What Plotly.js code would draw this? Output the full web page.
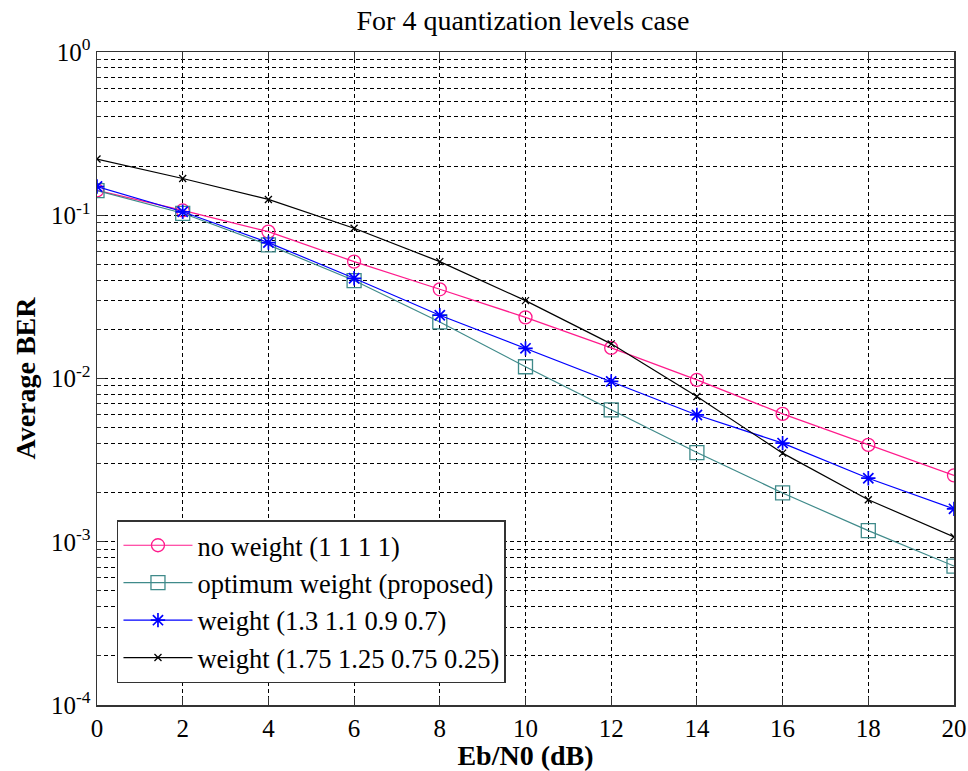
<!DOCTYPE html>
<html>
<head>
<meta charset="utf-8">
<script src="https://cdn.plot.ly/plotly-3.0.1.min.js"></script>
<style>
  html, body { margin: 0; padding: 0; background: #fff; }
  #chart { width: 968px; height: 771px; }
</style>
</head>
<body>
<div id="chart"></div>
<script>
// Eb/N0 sweep (dB)
const ebn0 = [0, 2, 4, 6, 8, 10, 12, 14, 16, 18, 20];

// Average BER per weighting scheme
const berNoWeight = [0.142, 0.107, 0.0794, 0.052, 0.0352, 0.0237, 0.0154, 0.0098, 0.00607, 0.00392, 0.00255];
const berOptimum  = [0.1415, 0.1028, 0.0658, 0.0398, 0.0222, 0.0118, 0.00643, 0.00352, 0.00199, 0.00117, 0.00071];
const berWeightA  = [0.150, 0.105, 0.068, 0.0411, 0.0244, 0.0153, 0.0096, 0.00598, 0.00402, 0.00245, 0.00159];
const berWeightB  = [0.221, 0.168, 0.125, 0.0832, 0.052, 0.030, 0.0163, 0.00775, 0.00349, 0.00181, 0.00107];

const seriesNames = [
  'no weight (1 1 1 1)',
  'optimum weight (proposed)',
  'weight (1.3 1.1 0.9 0.7)',
  'weight (1.75 1.25 0.75 0.25)'
];

const xTickVals = [0, 2, 4, 6, 8, 10, 12, 14, 16, 18, 20];
const yTickVals = [1e-4, 1e-3, 1e-2, 1e-1, 1];
const yTickText = ['10<sup>-4</sup>', '10<sup>-3</sup>', '10<sup>-2</sup>', '10<sup>-1</sup>', '10<sup>0</sup>'];

const serif = '"Liberation Serif", "Times New Roman", serif';
const gridDash = '4px,3px';

function trace(y, name, color, symbol, size, mlw, group) {
  return {
    x: ebn0, y: y, name: name, type: 'scatter', mode: 'lines+markers',
    legendgroup: group,
    line: { color: color, width: 1.2 },
    marker: { symbol: symbol, size: size, color: color, line: { color: color, width: mlw } }
  };
}

const data = [
  trace(berNoWeight, seriesNames[0], '#ff1a8c', 'circle-open', 13, 1.3, 'a'),
  trace(berOptimum,  seriesNames[1], '#3f8a8a', 'square-open', 14, 1.3, 'b'),
  trace(berWeightA,  seriesNames[2], '#0000ff', 'asterisk-open', 12, 1.7, 'c'),
  trace(berWeightB,  seriesNames[3], '#000000', 'x-thin-open', 7, 1.3, 'd')
];

const layout = {
  width: 968, height: 771,
  margin: { l: 97, r: 14, t: 52, b: 66 },
  paper_bgcolor: '#fff', plot_bgcolor: '#fff',
  font: { family: serif, color: '#000' },
  title: {
    text: 'For 4 quantization levels case',
    font: { family: serif, size: 28, color: '#000' },
    x: 0.497, xanchor: 'center', xref: 'paper',
    y: 0.974, yanchor: 'middle', yref: 'container'
  },
  xaxis: {
    range: [0, 20],
    tickmode: 'array', tickvals: xTickVals,
    ticks: 'inside', ticklen: 8, tickcolor: '#333', tickwidth: 1,
    showline: true, linecolor: '#333', linewidth: 1.5, mirror: 'ticks',
    showgrid: true, gridcolor: '#000', gridwidth: 1, griddash: gridDash,
    zeroline: false,
    tickfont: { family: serif, size: 25, color: '#000' },
    title: { text: '<b>Eb/N0 (dB)</b>', font: { family: serif, size: 28, color: '#000' }, standoff: 4 }
  },
  yaxis: {
    type: 'log', range: [-4, 0],
    tickmode: 'array', tickvals: yTickVals, ticktext: yTickText,
    ticks: 'inside', ticklen: 8, tickcolor: '#333', tickwidth: 1,
    showline: true, linecolor: '#333', linewidth: 1.5, mirror: 'ticks',
    showgrid: true, gridcolor: '#000', gridwidth: 1, griddash: gridDash,
    zeroline: false,
    tickfont: { family: serif, size: 25, color: '#000' },
    minor: {
      dtick: 'D1', ticks: 'inside', ticklen: 4, tickcolor: '#333',
      showgrid: true, gridcolor: '#000', gridwidth: 1, griddash: gridDash
    },
    title: { text: '<b>Average BER</b>', font: { family: serif, size: 28, color: '#000' }, standoff: 7 }
  },
  showlegend: true,
  legend: {
    x: 0.0233, xanchor: 'left', xref: 'paper',
    y: 0.2833, yanchor: 'top', yref: 'paper',
    bgcolor: '#fff', bordercolor: '#333', borderwidth: 1.5,
    font: { family: serif, size: 26.5, color: '#000' },
    traceorder: 'grouped', tracegroupgap: 0,
    itemwidth: 69
  }
};

Plotly.newPlot('chart', data, layout, { displayModeBar: false, staticPlot: true });
</script>
</body>
</html>
